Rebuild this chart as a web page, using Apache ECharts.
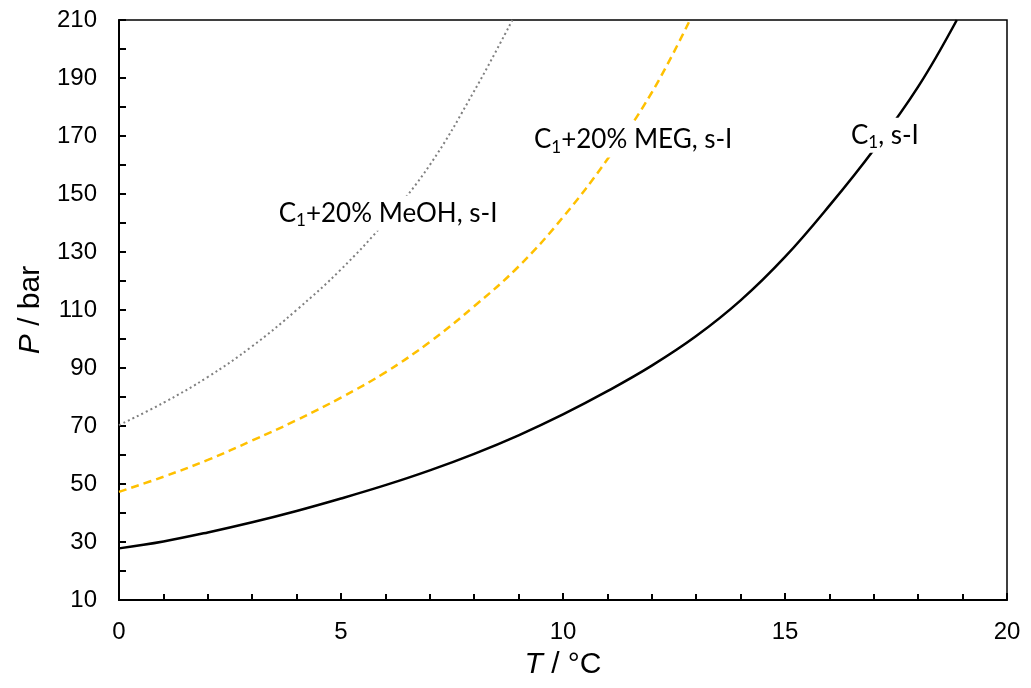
<!DOCTYPE html>
<html>
<head>
<meta charset="utf-8">
<script src="https://cdn.jsdelivr.net/npm/echarts@6/dist/echarts.min.js"></script>
<style>
  html, body { margin: 0; padding: 0; background: #fff; }
  #chart { width: 1031px; height: 688px; }
</style>
</head>
<body>
<div id="chart"></div>
<script>
// Hydrate equilibrium curves: temperature (°C) vs pressure (bar)
const tPure = [0, 1, 2, 3, 4, 5, 6, 7, 8, 9, 10, 11, 12, 13, 14, 15, 16, 17, 18, 18.87];
const pPure = [27.8, 30.2, 33.3, 36.8, 40.7, 45.0, 49.6, 54.7, 60.4, 66.8, 74.0, 82.0, 90.8, 101.0, 113.3, 128.3, 146.0, 165.3, 187.0, 210];

const tMeg = [0, 1, 2, 3, 4, 5, 6, 7, 8, 9, 10, 11, 12, 12.86];
const pMeg = [47.3, 52.5, 58.3, 65.0, 72.0, 79.8, 88.5, 99.0, 111.3, 125.0, 142.0, 162.0, 185.0, 210];

const tMeoh = [0, 1, 2, 3, 4, 5, 6, 7, 8, 8.86];
const pMeoh = [70.3, 78.0, 86.9, 97.5, 110.0, 124.0, 140.5, 160.0, 185.5, 210];

const labelPure = { text: ['C', '1', ', s-I'], at: [17.25, 170.3] };
const labelMeg = { text: ['C', '1', '+20% MEG, s-I'], at: [11.58, 168.6] };
const labelMeoh = { text: ['C', '1', '+20% MeOH, s-I'], at: [6.06, 143.4] };

const xTicks = { min: 0, max: 20, step: 5 };
const yTicks = { min: 10, max: 210, step: 20 };

function pairs(xs, ys) { return xs.map((x, i) => [x, ys[i]]); }

const richLabel = {
  a: { fontFamily: 'Lato', fontSize: 26, color: '#000' },
  s: { fontFamily: 'Lato', fontSize: 17, color: '#000', padding: [14, 0, 0, 0] }
};

function curveLabel(lab) {
  return {
    symbol: 'rect', symbolSize: 0, silent: true,
    data: [{ coord: lab.at }],
    label: {
      show: true, position: 'inside',
      formatter: '{a|' + lab.text[0] + '}{s|' + lab.text[1] + '}{a|' + lab.text[2] + '}',
      rich: richLabel,
      backgroundColor: '#fff', padding: [2, 3, 2, 3]
    }
  };
}

const chart = echarts.init(document.getElementById('chart'), null, { renderer: 'canvas' });

const axisFont = { fontFamily: 'Liberation Sans, Arial', fontSize: 24, color: '#000' };
const nameFont = { fontFamily: 'Liberation Sans, Arial', fontSize: 30, color: '#000' };
const nameRich = { i: Object.assign({ fontStyle: 'italic' }, nameFont) };

chart.setOption({
  animation: false,
  backgroundColor: '#fff',
  grid: { left: 119, right: 24, top: 20, bottom: 88, show: true, borderColor: '#000', borderWidth: 1.5 },
  xAxis: {
    type: 'value', min: xTicks.min, max: xTicks.max, interval: xTicks.step,
    name: '{i|T} / °C', nameLocation: 'middle', nameGap: 50,
    nameTextStyle: Object.assign({ rich: nameRich }, nameFont),
    axisLine: { show: true, onZero: false, lineStyle: { color: '#000', width: 2 } },
    axisTick: { show: true, inside: true, length: 7, lineStyle: { color: '#000', width: 2 } },
    minorTick: { show: true, splitNumber: 5, length: 6, lineStyle: { color: '#000', width: 2 } },
    axisLabel: Object.assign({ margin: 20 }, axisFont),
    splitLine: { show: false }
  },
  yAxis: {
    type: 'value', min: yTicks.min, max: yTicks.max, interval: yTicks.step,
    name: '{i|P} / bar', nameLocation: 'middle', nameGap: 66, nameRotate: 90,
    nameTextStyle: Object.assign({ rich: nameRich }, nameFont),
    axisLine: { show: true, onZero: false, lineStyle: { color: '#000', width: 2 } },
    axisTick: { show: true, inside: true, length: 7, lineStyle: { color: '#000', width: 2 } },
    minorTick: { show: true, splitNumber: 2, length: 7, lineStyle: { color: '#000', width: 2 } },
    axisLabel: Object.assign({ margin: 22 }, axisFont),
    splitLine: { show: false }
  },
  series: [
    {
      name: 'C1+20% MeOH, s-I', type: 'line', data: pairs(tMeoh, pMeoh),
      smooth: 0.4, showSymbol: false, z: 2,
      lineStyle: { color: '#808080', width: 2, type: [2, 3] },
      markPoint: curveLabel(labelMeoh)
    },
    {
      name: 'C1+20% MEG, s-I', type: 'line', data: pairs(tMeg, pMeg),
      smooth: 0.4, showSymbol: false, z: 2,
      lineStyle: { color: '#FFC000', width: 2.5, type: [8, 5] },
      markPoint: curveLabel(labelMeg)
    },
    {
      name: 'C1, s-I', type: 'line', data: pairs(tPure, pPure),
      smooth: 0.4, showSymbol: false, z: 2,
      lineStyle: { color: '#000', width: 2.5, type: 'solid' },
      markPoint: curveLabel(labelPure)
    }
  ]
});
</script>
</body>
</html>
